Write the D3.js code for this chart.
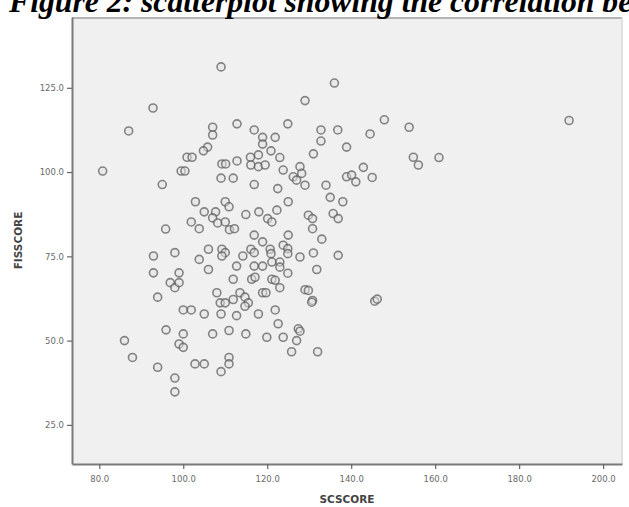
<!DOCTYPE html>
<html>
<head>
<meta charset="utf-8">
<script src="https://cdn.jsdelivr.net/npm/d3@7"></script>
<style>
  body { margin: 0; background: #fff; }
  svg { display: block; }
</style>
</head>
<body>
<svg id="chart" width="629" height="507"></svg>
<script>
// SCSCORE (x) and FISSCORE (y)
var scscore = [109.0, 92.8, 87.0, 80.8, 95.0, 95.8, 107.0, 107.0, 112.8, 116.9, 118.9, 121.9, 118.9, 120.9, 105.8, 104.8,
  100.9, 102.1, 99.5, 100.4, 109.2, 110.1, 112.8, 116.0, 117.9, 116.1, 117.9, 119.5, 109.0, 111.9, 116.9, 122.5,
  102.9, 110.0, 110.9, 105.0, 107.7, 114.9, 118.0, 120.1, 121.1, 122.3, 101.9, 103.8, 107.0, 108.2, 110.0, 111.0,
  112.2, 116.9, 118.9, 92.9, 98.0, 92.9, 99.0, 96.9, 98.0, 99.0, 93.9, 103.8, 106.0, 106.0, 109.2, 110.0,
  109.2, 112.7, 114.2, 116.1, 116.9, 116.9, 118.9, 120.7, 121.1, 111.9, 116.3, 117.1, 108.0, 108.8, 110.0, 111.9,
  113.5, 114.7, 115.5, 114.7, 118.9, 119.7, 121.9, 100.0, 101.9, 105.0, 109.0, 112.7, 117.9, 122.6, 95.9, 100.0,
  99.0, 100.0, 107.0, 110.9, 114.9, 119.9, 86.0, 87.9, 93.9, 102.8, 105.0, 110.9, 110.9, 109.0, 98.0, 98.0,
  136.0, 129.0, 124.9, 132.8, 132.8, 136.8, 147.9, 153.8, 144.5, 138.9, 131.0, 123.0, 123.8, 127.8, 128.2, 126.2,
  127.0, 129.0, 134.0, 138.9, 140.1, 141.1, 142.9, 145.0, 154.8, 156.0, 160.9, 135.0, 138.0, 125.0, 129.8, 130.8,
  130.8, 135.7, 136.9, 133.0, 125.0, 123.8, 124.9, 124.9, 120.9, 131.0, 136.9, 127.8, 131.8, 121.1, 123.0, 123.0,
  124.9, 121.9, 123.0, 129.0, 129.8, 130.8, 130.6, 145.6, 146.2, 127.4, 127.8, 127.0, 123.8, 125.8, 132.0, 191.9];

var fisscore = [131.2, 119.0, 112.2, 100.3, 96.3, 83.1, 113.3, 111.0, 114.3, 112.5, 110.3, 110.3, 108.3, 106.3, 107.4, 106.3,
  104.4, 104.4, 100.3, 100.3, 102.4, 102.4, 103.3, 104.4, 105.1, 102.1, 101.6, 102.1, 98.2, 98.2, 96.3, 95.1,
  91.2, 91.2, 89.7, 88.2, 88.2, 87.4, 88.2, 86.2, 85.2, 88.7, 85.2, 83.2, 86.4, 84.9, 85.2, 82.9,
  83.2, 81.3, 79.3, 75.1, 76.1, 70.1, 70.1, 67.2, 65.7, 67.2, 62.9, 74.1, 77.1, 71.1, 77.1, 76.1,
  75.1, 72.1, 75.1, 77.1, 76.1, 72.1, 72.1, 77.1, 68.2, 68.2, 68.2, 68.8, 64.2, 61.2, 61.2, 62.2,
  64.2, 62.9, 61.2, 60.2, 64.2, 64.2, 59.1, 59.1, 59.1, 57.9, 57.9, 57.4, 57.9, 55.0, 53.2, 52.0,
  49.0, 48.0, 52.0, 53.0, 52.0, 51.0, 50.0, 45.0, 42.1, 43.1, 43.1, 45.0, 43.1, 40.8, 38.9, 34.8,
  126.4, 121.2, 114.3, 112.5, 109.2, 112.5, 115.5, 113.3, 111.3, 107.4, 105.4, 104.3, 100.6, 101.6, 99.6, 98.6,
  97.6, 96.1, 96.1, 98.6, 99.1, 97.1, 101.4, 98.4, 104.4, 102.1, 104.3, 92.5, 91.2, 91.2, 87.2, 86.2,
  83.2, 87.7, 86.2, 80.1, 81.3, 78.3, 77.3, 75.8, 75.8, 76.0, 75.3, 74.8, 71.1, 73.3, 73.3, 71.8,
  70.0, 67.9, 65.7, 65.1, 64.9, 61.9, 61.4, 61.7, 62.3, 53.5, 52.8, 50.0, 51.0, 46.7, 46.7, 115.3];

var xTicks = [80, 100, 120, 140, 160, 180, 200];
var yTicks = [25, 50, 75, 100, 125];

// the page crops the caption, only its lower part and up to "be" shows
var titleText = "Figure 2: scatterplot showing the correlation between";

var plot = {left: 72, right: 622, top: 17, bottom: 464};

var svg = d3.select("#chart");

svg.append("rect").attr("width", 629).attr("height", 507).attr("fill", "#fff");

// soft edges, the original is a blurry scan
var defs = svg.append("defs");
defs.append("filter").attr("id", "soft")
  .attr("x", "-10%").attr("y", "-10%").attr("width", "120%").attr("height", "120%")
  .append("feGaussianBlur").attr("stdDeviation", 0.55);

var x = d3.scaleLinear()
    .domain([73.5, 204.5])
    .range([plot.left, plot.right]);

var y = d3.scaleLinear()
    .domain([13.4, 146])
    .range([plot.bottom, plot.top]);

// plot area
svg.append("rect")
    .attr("x", plot.left).attr("y", plot.top)
    .attr("width", plot.right - plot.left).attr("height", plot.bottom - plot.top)
    .attr("fill", "#f0f0f0");

// frame: shadowed top and left, faint right
svg.append("line")
    .attr("x1", plot.left).attr("x2", plot.right).attr("y1", plot.top + 1).attr("y2", plot.top + 1)
    .attr("stroke", "#b4b4b4").attr("stroke-width", 2);
svg.append("line")
    .attr("x1", plot.right).attr("x2", plot.right).attr("y1", plot.top).attr("y2", plot.bottom)
    .attr("stroke", "#d8d8d8").attr("stroke-width", 1.5);

// title, cut off at the top of the page
svg.append("text")
    .attr("x", 9).attr("y", 12)
    .attr("font-family", "Liberation Serif, serif")
    .attr("font-weight", "bold").attr("font-style", "italic")
    .attr("font-size", 31.7)
    .attr("fill", "#000")
    .text(titleText);

// points
svg.append("g")
    .attr("filter", "url(#soft)")
  .selectAll("circle")
  .data(scscore)
  .join("circle")
    .attr("cx", function(d) { return x(d); })
    .attr("cy", function(d, i) { return y(fisscore[i]); })
    .attr("r", 4)
    .attr("fill", "#e4e4e4").attr("fill-opacity", 0.5)
    .attr("stroke", "#555").attr("stroke-opacity", 0.7)
    .attr("stroke-width", 1.6);

// axes
var gx = svg.append("g")
    .attr("class", "axis axis--x")
    .attr("transform", "translate(0," + plot.bottom + ")")
    .call(d3.axisBottom(x)
        .tickValues(xTicks)
        .tickFormat(d3.format(".1f"))
        .tickSize(5)
        .tickSizeOuter(0)
        .tickPadding(7));

var gy = svg.append("g")
    .attr("class", "axis axis--y")
    .attr("transform", "translate(" + plot.left + ",0)")
    .call(d3.axisLeft(y)
        .tickValues(yTicks)
        .tickFormat(d3.format(".1f"))
        .tickSize(5)
        .tickSizeOuter(0)
        .tickPadding(3));

[gx, gy].forEach(function(g) {
  g.select(".domain").attr("stroke", "#7a7a7a").attr("stroke-width", 2);
  g.selectAll(".tick line").attr("stroke", "#666").attr("stroke-width", 1.2);
  g.selectAll(".tick text")
      .attr("fill", "#6a6a6a")
      .attr("font-family", "DejaVu Sans, sans-serif")
      .attr("font-size", 8.5);
});

// axis titles
svg.append("text")
    .attr("x", (plot.left + plot.right) / 2).attr("y", 503)
    .attr("text-anchor", "middle")
    .attr("font-family", "DejaVu Sans, sans-serif")
    .attr("font-weight", "bold").attr("font-size", 10.5)
    .attr("fill", "#444")
    .text("SCSCORE");

svg.append("text")
    .attr("transform", "translate(22," + (plot.top + plot.bottom) / 2 + ") rotate(-90)")
    .attr("text-anchor", "middle")
    .attr("font-family", "DejaVu Sans, sans-serif")
    .attr("font-weight", "bold").attr("font-size", 10.5)
    .attr("fill", "#444")
    .text("FISSCORE");
</script>
</body>
</html>
